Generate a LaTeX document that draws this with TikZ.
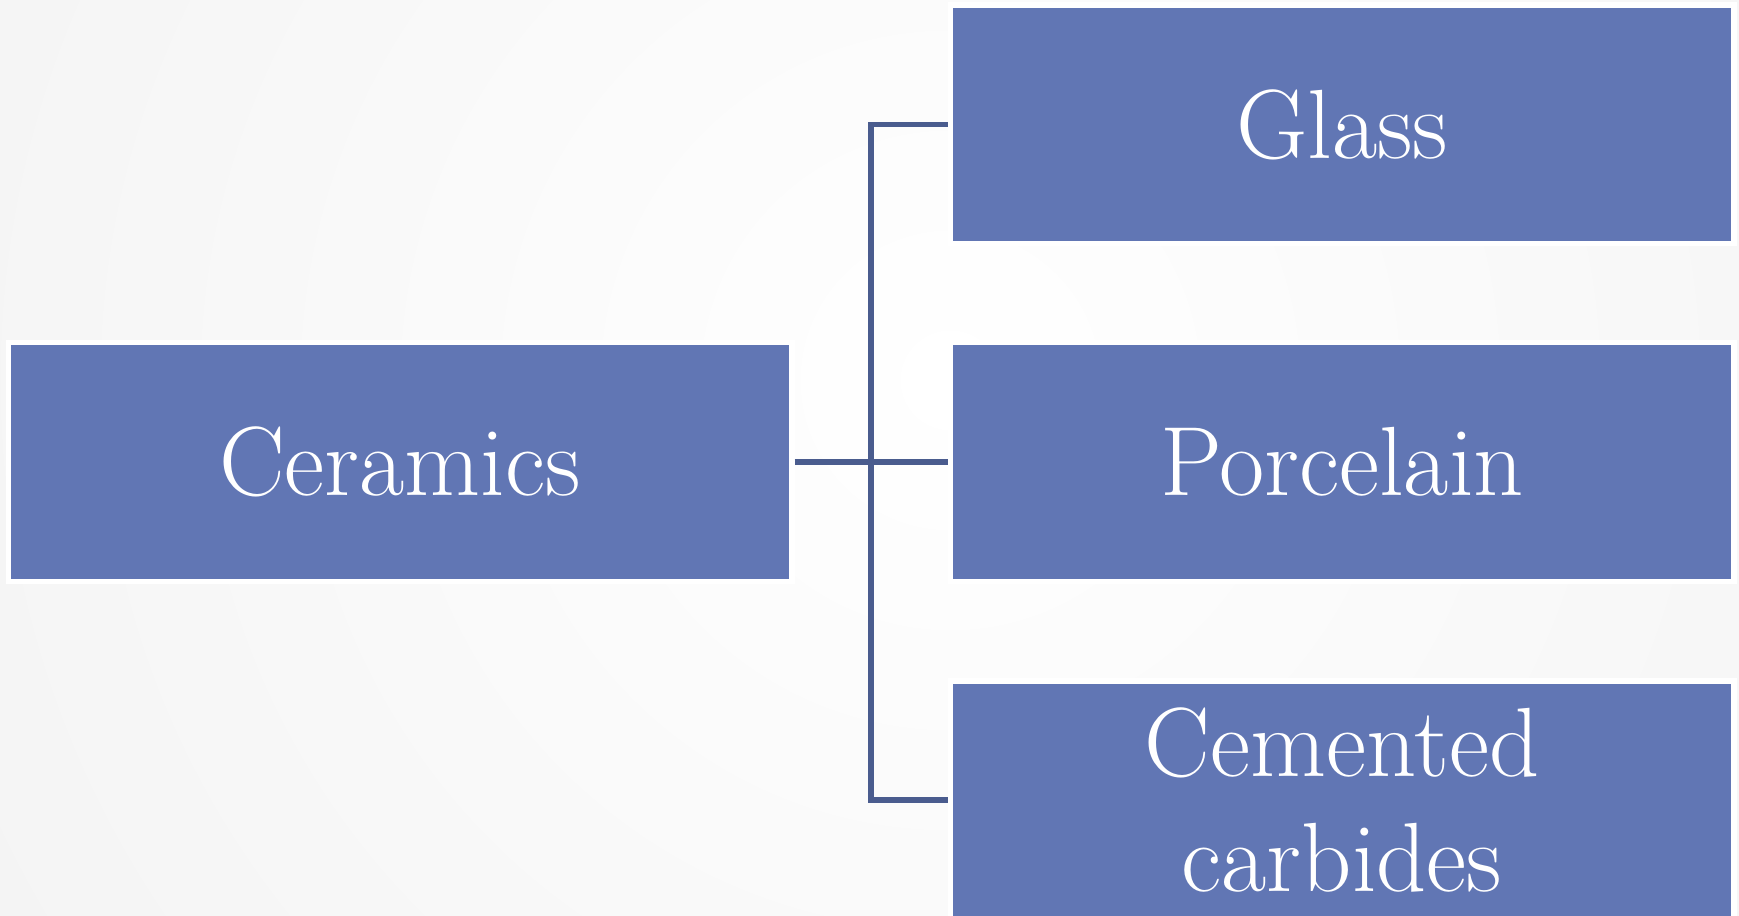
\documentclass[tikz,border=0pt]{standalone}
\usepackage{tikz}
\definecolor{boxblue}{RGB}{97,118,180}
\definecolor{linkblue}{RGB}{74,92,142}
\definecolor{bggray}{RGB}{232,232,232}

\begin{document}
\begin{tikzpicture}[font=\fontsize{28}{32.5}\selectfont,
  box/.style={fill=boxblue, draw=white, line width=0.055cm, text=white,
    minimum width=7.835cm, minimum height=2.385cm, align=center},
  link/.style={linkblue, line width=0.055cm}]
  \useasboundingbox (0,0) rectangle (17.39,9.15);
  \clip (0,0) rectangle (17.39,9.15);
  \fill[bggray] (0,0) rectangle (17.39,9.15);
  \shade[inner color=white, outer color=bggray] (9.5,5.35) circle (23);
  \node[box] (ceramics) at (4.00,4.53) {Ceramics};
  \node[box] (glass) at (13.42,7.905) {Glass};
  \node[box] (porcelain) at (13.42,4.53) {Porcelain};
  \node[box] (carbides) at (13.42,1.15) {Cemented\\carbides};
  \coordinate (split) at (8.71,4.53);
  \draw[link] (ceramics) -- (porcelain);
  \draw[link] (glass.west) -| (split) |- (carbides.west);
\end{tikzpicture}
\end{document}
